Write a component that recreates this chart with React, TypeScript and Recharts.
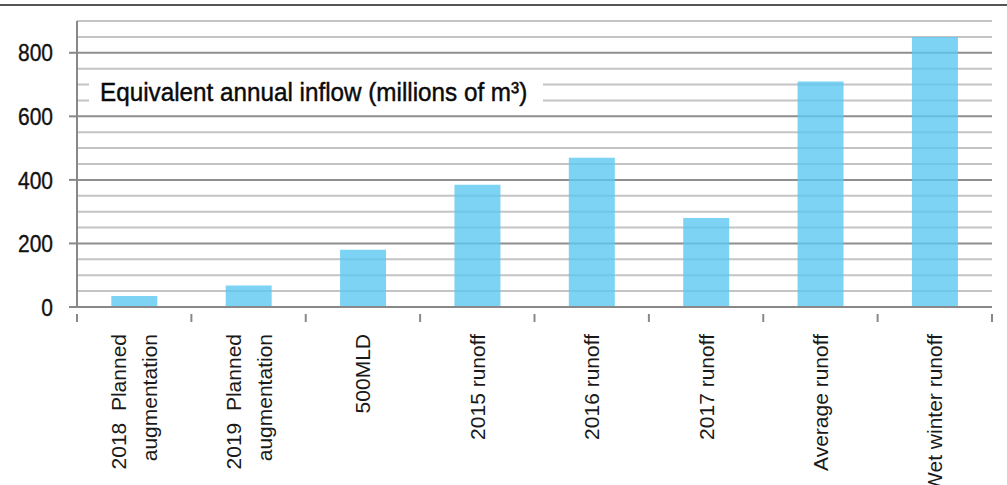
import React from "react";
import { BarChart, Bar, XAxis, YAxis, CartesianGrid } from "recharts";

// categories and annual inflow values (millions of m3)
const categories = [
  "2018  Planned\naugmentation",
  "2019  Planned\naugmentation",
  "500MLD",
  "2015 runoff",
  "2016 runoff",
  "2017 runoff",
  "Average runoff",
  "Wet winter runoff",
];
const inflow = [35, 68, 180, 385, 470, 280, 710, 850];
const yTicks = [0, 200, 400, 600, 800];
const minorGrid = [50, 100, 150, 250, 300, 350, 450, 500, 550, 650, 700, 750, 850, 900];
const majorGrid = [200, 400, 600, 800];
const title = "Equivalent annual inflow (millions of m³)";

const data = categories.map((name, i) => ({ name, value: inflow[i] }));

const SANS = '"Liberation Sans", Arial, sans-serif';

// narrow-looking value labels: squeeze the sans face horizontally
const ValueTick = (props: any) => {
  const { x, y, payload } = props;
  return (
    <text
      transform={`translate(${x},${y}) scale(0.875,1)`}
      textAnchor="end"
      dy="0.36em"
      fontFamily={SANS}
      fontSize={24}
      fill="#111"
      stroke="#111"
      strokeWidth={0.35}
    >
      {payload.value}
    </text>
  );
};

const CategoryTick = (props: any) => {
  const { x, y, payload, index, visibleTicksCount } = props;
  const half = payload.offset ?? 57;
  const lines = String(payload.value).split("\n");
  const lh = 31;
  const start = 7.5 - ((lines.length - 1) * lh) / 2;
  const isLast = index === visibleTicksCount - 1;
  return (
    <g>
      <line x1={x - half} x2={x - half} y1={y - 1} y2={y + 7} stroke="#888" strokeWidth={2} />
      {isLast && (
        <line x1={x + half} x2={x + half} y1={y - 1} y2={y + 7} stroke="#888" strokeWidth={2} />
      )}
      <g transform={`translate(${x},${y + 19}) rotate(-90)`}>
        {lines.map((ln, k) => (
          <text
            key={k}
            x={0}
            y={start + k * lh}
            textAnchor="end"
            fontFamily={SANS}
            fontSize={21}
            fill="#1a1a1a"
            style={{ whiteSpace: "pre" }}
          >
            {ln}
          </text>
        ))}
      </g>
    </g>
  );
};

export default function App() {
  return (
    <div style={{ position: "absolute", left: 0, top: 0, width: 1007, height: 485, background: "#fff", overflow: "hidden" }}>
      <div style={{ position: "absolute", left: 0, top: 4, width: 1007, height: 2, background: "#555" }} />
      <BarChart
        width={1007}
        height={485}
        data={data}
        margin={{ top: 21, right: 15, left: 0, bottom: 0 }}
        barCategoryGap="30%"
      >
        <CartesianGrid
          vertical={false}
          horizontalValues={minorGrid}
          stroke="#c4c4c4"
          strokeWidth={2}
        />
        <CartesianGrid
          vertical={false}
          horizontalValues={majorGrid}
          stroke="#8e8e8e"
          strokeWidth={2}
        />
        <XAxis
          dataKey="name"
          height={178}
          interval={0}
          axisLine={{ stroke: "#888", strokeWidth: 2 }}
          tickLine={false}
          tick={<CategoryTick />}
        />
        <YAxis
          width={77}
          domain={[0, 900]}
          ticks={yTicks}
          interval={0}
          axisLine={{ stroke: "#888", strokeWidth: 2 }}
          tickLine={{ stroke: "#888", strokeWidth: 2 }}
          tickSize={8}
          tickMargin={16}
          tick={<ValueTick />}
        />
        <Bar dataKey="value" fill="#5dc8f1" fillOpacity={0.8} isAnimationActive={false} />
      </BarChart>
      <div
        style={{
          position: "absolute",
          left: 89,
          top: 74,
          width: 454,
          height: 37,
          background: "#fff",
          overflow: "hidden",
        }}
      >
        <div
          style={{
            position: "absolute",
            left: 11,
            top: 0,
            fontFamily: SANS,
            fontSize: 26.5,
            lineHeight: "37px",
            color: "#0a0a0a",
            whiteSpace: "nowrap",
            transform: "scaleX(0.915)",
            transformOrigin: "0 0",
            WebkitTextStroke: "0.45px #0a0a0a",
          }}
        >
          {title}
        </div>
      </div>
    </div>
  );
}
